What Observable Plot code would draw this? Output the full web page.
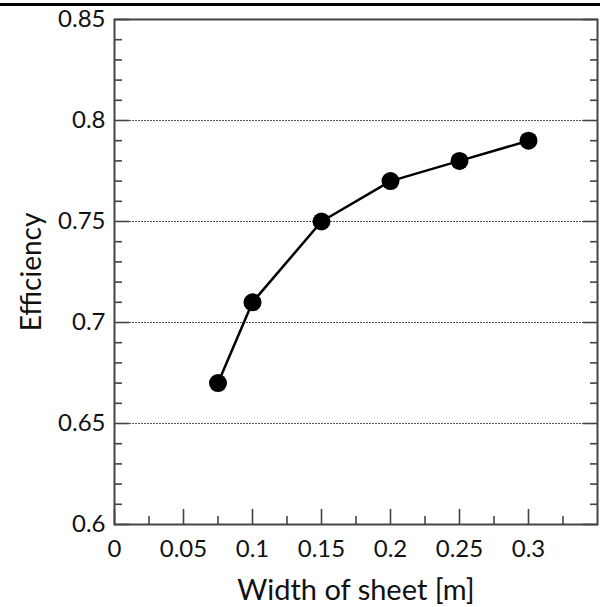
<!DOCTYPE html>
<html>
<head>
<meta charset="utf-8">
<script src="https://cdn.jsdelivr.net/npm/d3@7"></script>
<script src="https://cdn.jsdelivr.net/npm/@observablehq/plot@0.6"></script>
<style>
  body { margin: 0; background: #fff; }
  #wrap { position: relative; width: 600px; height: 607px; }
  #topline { position: absolute; left: 0; top: 3px; width: 600px; height: 3px; background: #000; }
</style>
</head>
<body>
<div id="wrap"><div id="topline"></div><div id="chart"></div></div>
<script>
// Data
const widths = [0.075, 0.1, 0.15, 0.2, 0.25, 0.3];
const efficiency = [0.67, 0.71, 0.75, 0.77, 0.78, 0.79];
const xTicks = [0, 0.05, 0.1, 0.15, 0.2, 0.25, 0.3];
const xMinorTicks = [0.025, 0.075, 0.125, 0.175, 0.225, 0.275, 0.325];
const yTicks = [0.6, 0.65, 0.7, 0.75, 0.8, 0.85];
const yMinorTicks = [0.61,0.62,0.63,0.64,0.66,0.67,0.68,0.69,0.71,0.72,0.73,0.74,0.76,0.77,0.78,0.79,0.81,0.82,0.83,0.84];
const yGrid = [0.65, 0.7, 0.75, 0.8];
const xLabel = "Width of sheet [m]";
const yLabel = "Efficiency";

const data = widths.map((w, i) => ({w, e: efficiency[i]}));
const font = "Lato, 'Open Sans', sans-serif";
const axisColor = "#444";

const tickOpts = {tickFormat: () => "", stroke: axisColor, strokeWidth: 1.6, label: null};

const chart = Plot.plot({
  width: 600,
  height: 607,
  marginLeft: 114,
  marginRight: 3,
  marginTop: 19,
  marginBottom: 83,
  style: {fontFamily: font, color: "#111", background: "white"},
  x: {domain: [0, 0.35], axis: null},
  y: {domain: [0.6, 0.85], axis: null},
  marks: [
    Plot.gridY(yGrid, {stroke: "#555", strokeOpacity: 1, strokeWidth: 1.2, strokeDasharray: "2,1"}),
    // inward ticks
    Plot.axisX(xTicks, {anchor: "bottom", tickSize: -15, ...tickOpts}),
    Plot.axisX(xMinorTicks, {anchor: "bottom", tickSize: -8, ...tickOpts}),
    Plot.axisY(yTicks, {anchor: "left", tickSize: -15, ...tickOpts}),
    Plot.axisY(yMinorTicks, {anchor: "left", tickSize: -8, ...tickOpts}),
    Plot.axisY(yTicks, {anchor: "right", tickSize: -15, ...tickOpts}),
    Plot.axisY(yMinorTicks, {anchor: "right", tickSize: -8, ...tickOpts}),
    // labels
    Plot.axisX(xTicks, {anchor: "bottom", tickSize: 0, tickPadding: 15, fontSize: 24, tickFormat: d => String(d), label: null}),
    Plot.axisY(yTicks, {anchor: "left", tickSize: 0, tickPadding: 9, fontSize: 24, tickFormat: d => String(d), label: null}),
    Plot.frame({stroke: axisColor, strokeWidth: 2}),
    Plot.line(data, {x: "w", y: "e", stroke: "black", strokeWidth: 2.5}),
    Plot.dot(data, {x: "w", y: "e", r: 9, fill: "black"}),
    Plot.text([xLabel], {frameAnchor: "bottom", dy: 75, fontSize: 29, fill: "#111"}),
    Plot.text([yLabel], {frameAnchor: "left", textAnchor: "middle", dx: -82, rotate: -90, fontSize: 28, fill: "#111"})
  ]
});
document.getElementById("chart").appendChild(chart);
</script>
</body>
</html>
